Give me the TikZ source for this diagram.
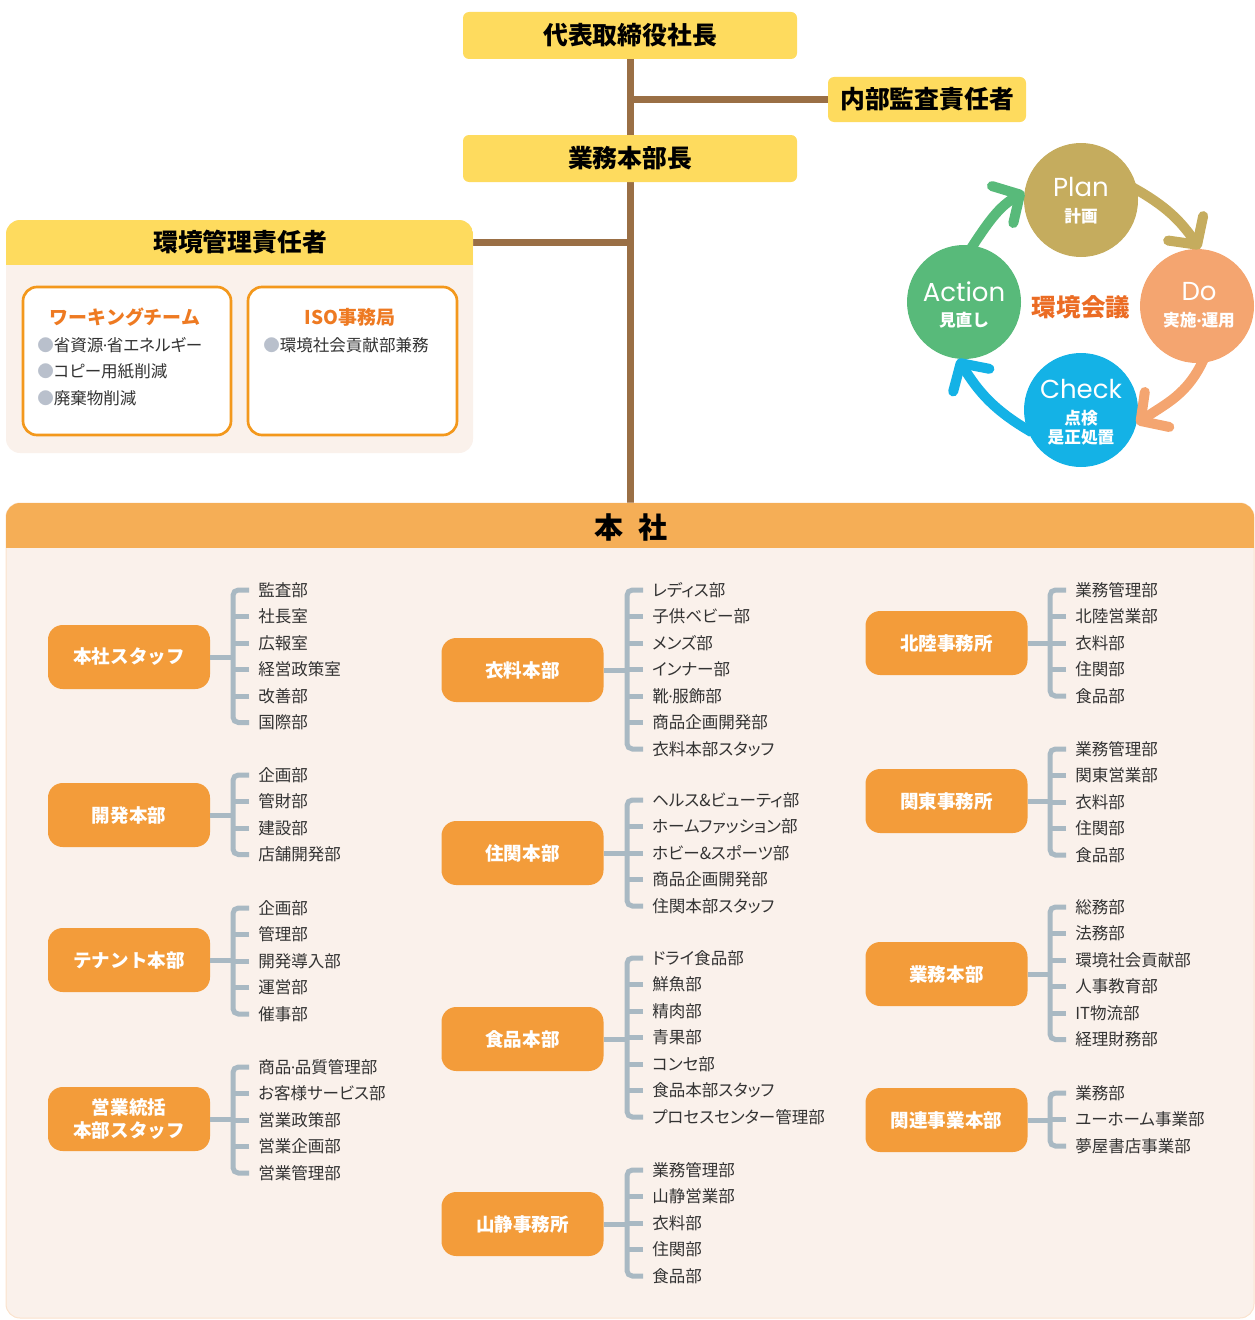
\documentclass[tikz,border=0pt]{standalone}
\usepackage{fontspec}
\setmainfont{Noto Sans CJK JP}
\newfontfamily\jpprop[RawFeature=+palt]{Noto Sans CJK JP}
\newfontfamily\popfont{Poppins}
\newcommand\mdot{{\popfont ·}}
\usetikzlibrary{arrows.meta,calc}
\definecolor{yboxc}{RGB}{254,219,94}
\definecolor{brownc}{RGB}{154,111,69}
\definecolor{oboxc}{RGB}{243,156,58}
\definecolor{oheadc}{RGB}{245,174,86}
\definecolor{beigec}{RGB}{250,241,235}
\definecolor{beigelinec}{RGB}{251,226,204}
\definecolor{brkc}{RGB}{169,185,195}
\definecolor{txtc}{RGB}{51,51,51}
\definecolor{otextc}{RGB}{238,122,34}
\definecolor{oborderc}{RGB}{243,152,28}
\definecolor{bulletc}{RGB}{185,192,204}
\definecolor{planc}{RGB}{197,172,94}
\definecolor{doc}{RGB}{244,165,112}
\definecolor{checkc}{RGB}{20,178,230}
\definecolor{actc}{RGB}{88,186,122}
\definecolor{meetc}{RGB}{235,108,36}
\tikzset{
  ybox/.style={fill=yboxc, rounded corners=4.5pt, inner sep=0pt, text=black,
    font=\bfseries\fontsize{18.6}{20}\selectfont},
  deptbox/.style={fill=oboxc, rounded corners=11pt, minimum width=121.5pt, minimum height=48pt,
    inner sep=0pt, text=white, align=center, font=\bfseries\fontsize{13.9}{17.25}\selectfont},
  item/.style={anchor=west, inner sep=0pt, text=txtc, font=\jpprop\fontsize{12.4}{14}\selectfont},
  brkline/.style={draw=brkc, line width=3.75pt},
  brownline/.style={draw=brownc, line width=5.25pt},
  wbox/.style={draw=oborderc, fill=white, line width=2pt, rounded corners=10.5pt},
  wtitle/.style={inner sep=0pt, text=otextc, font=\bfseries\fontsize{14.2}{16}\selectfont},
  circ/.style={circle, minimum size=85.5pt, inner sep=0pt},
  pen/.style={inner sep=0pt, text=white, font=\popfont\fontsize{19.5}{20}\selectfont},
  pjp/.style={inner sep=0pt, text=white, align=center, font=\bfseries\fontsize{12.5}{14}\selectfont},
  cyc/.style={line width=7.5pt, shorten <=-4pt, -{Straight Barb[length=15pt, width=32pt, round]}},
}
\newcommand\orgunit[8]{%
  \node[deptbox] (#1) at (#3,#4) {#2};
  \foreach \t [count=\i] in {#8} {
    \node[item] (#1-\i) at ({#5+25},{#6+(\i-1)*26.5}) {\t};
  }
  \draw[brkline] (#1.east) -- (#5,#4);
  \draw[brkline, rounded corners=4pt] ($(#1-1.west)+(-9,0)$) -- (#5,#6) -- (#5,{#6+(#7-1)*26.5}) -- ($(#1-#7.west)+(-9,0)$);
  \pgfmathtruncatemacro\lastm{#7-1}
  \foreach \i in {2,...,\lastm} {
    \draw[brkline] ($(#1-\i.west)+(-9,0)$) -- ++(-16,0);
  }
}
\begin{document}
\begin{tikzpicture}[x=0.75pt, y=-0.75pt]
\useasboundingbox (0,0) rectangle (1255,1320);

% top boxes
\node[ybox, minimum width=250.5pt, minimum height=35.25pt] (ceo) at (630,35.5) {代表取締役社長};
\node[ybox, minimum width=148.5pt, minimum height=33.75pt] (audit) at (927,99.5) {内部監査責任者};
\coordinate (hqtop) at (630,503);
\coordinate (envR) at (473,242);
\draw[brownline] (ceo.south) -- (hqtop);
\draw[brownline] (ceo.south |- audit.west) -- (audit.west);
\draw[brownline] (envR) -- (envR -| ceo.south);
\node[ybox, minimum width=250.5pt, minimum height=35.25pt] (gm) at (630,158.5) {業務本部長};

% environment manager box
\fill[beigec, rounded corners=10.5pt] (6,220) rectangle (473,453);
\begin{scope}
  \clip[rounded corners=10.5pt] (6,220) rectangle (473,453);
  \fill[yboxc] (6,220) rectangle (473,265);
\end{scope}
\node[inner sep=0pt, font=\bfseries\fontsize{18.6}{20}\selectfont] (envt) at (240,242.5) {環境管理責任者};
\draw[wbox] (23,287) rectangle (231,435);
\draw[wbox] (248,287) rectangle (457,435);
\node[wtitle] (wt) at (125,317) {ワーキングチーム};
\node[item] (wt1) at (37,345) {{\color{bulletc}●}省資源\mdot 省エネルギー};
\node[item] (wt2) at (37,371) {{\color{bulletc}●}コピー用紙削減};
\node[item] (wt3) at (37,398) {{\color{bulletc}●}廃棄物削減};
\node[wtitle] (iso) at (350,317) {ISO事務局};
\node[item] (iso1) at (263,345) {{\color{bulletc}●}環境社会貢献部兼務};

% PDCA
\node[circ, fill=planc] (plan) at (1081,200) {};
\node[circ, fill=doc] (do) at (1197,306) {};
\node[circ, fill=checkc] (check) at (1081,410) {};
\node[circ, fill=actc] (act) at (964,302) {};
\draw[cyc, actc] (act.81) to[out=57, in=210] (plan.172);
\draw[cyc, planc] (plan.10) to[out=-29, in=125] (do.87);
\draw[cyc, doc] (do.-85) to[out=-114, in=35] (check.-14);
\draw[cyc, checkc] (check.200) to[out=150, in=302] (act.264);
\node[pen] (plan-en) at (1081,187) {Plan};
\node[pjp] (plan-jp) at (1081,216) {計画};
\node[pen] (do-en) at (1199,292) {Do};
\node[pjp] (do-jp) at (1199,320) {実施\mdot 運用};
\node[pen] (check-en) at (1081,389) {Check};
\node[pjp] (check-jp1) at (1081,418) {点検};
\node[pjp] (check-jp2) at (1081,437) {是正処置};
\node[pen] (act-en) at (964,292) {Action};
\node[pjp] (act-jp) at (964,320) {見直し};
\node[inner sep=0pt, text=meetc, font=\bfseries\fontsize{18.4}{20}\selectfont] (meet) at (1081,307) {環境会議};

% head office box
\draw[fill=beigec, draw=beigelinec, line width=0.75pt, rounded corners=10.5pt] (6,503) rectangle (1254,1318);
\begin{scope}
  \clip[rounded corners=10.5pt] (6,503) rectangle (1254,1318);
  \fill[oheadc] (6,503) rectangle (1254,548);
\end{scope}
\node[inner sep=0pt, font=\bfseries\fontsize{21.75}{24}\selectfont] (hq) at (631,527) {本\hspace{0.55em}社};

\orgunit{g1}{本社スタッフ}{129}{657}{233}{590}{6}{監査部,社長室,広報室,経営政策室,改善部,国際部}
\orgunit{g2}{開発本部}{129}{815}{233}{775}{4}{企画部,管財部,建設部,店舗開発部}
\orgunit{g3}{テナント本部}{129}{960}{233}{908}{5}{企画部,管理部,開発導入部,運営部,催事部}
\orgunit{g4}{営業統括\\本部スタッフ}{129}{1119}{233}{1067}{5}{商品\mdot 品質管理部,お客様サービス部,営業政策部,営業企画部,営業管理部}

\orgunit{g5}{衣料本部}{522.5}{670}{627}{590}{7}{レディス部,子供ベビー部,メンズ部,インナー部,靴\mdot 服飾部,商品企画開発部,衣料本部スタッフ}
\orgunit{g6}{住関本部}{522.5}{853}{627}{800}{5}{ヘルス\&ビューティ部,ホームファッション部,ホビー\&スポーツ部,商品企画開発部,住関本部スタッフ}
\orgunit{g7}{食品本部}{522.5}{1039}{627}{958}{7}{ドライ食品部,鮮魚部,精肉部,青果部,コンセ部,食品本部スタッフ,プロセスセンター管理部}
\orgunit{g8}{山静事務所}{522.5}{1224}{627}{1170}{5}{業務管理部,山静営業部,衣料部,住関部,食品部}

\orgunit{g9}{北陸事務所}{946.5}{643}{1050}{590}{5}{業務管理部,北陸営業部,衣料部,住関部,食品部}
\orgunit{g10}{関東事務所}{946.5}{801}{1050}{749}{5}{業務管理部,関東営業部,衣料部,住関部,食品部}
\orgunit{g11}{業務本部}{946.5}{974}{1050}{907}{6}{総務部,法務部,環境社会貢献部,人事教育部,IT物流部,経理財務部}
\orgunit{g12}{関連事業本部}{946.5}{1120}{1050}{1093}{3}{業務部,ユーホーム事業部,夢屋書店事業部}
\end{tikzpicture}
\end{document}
